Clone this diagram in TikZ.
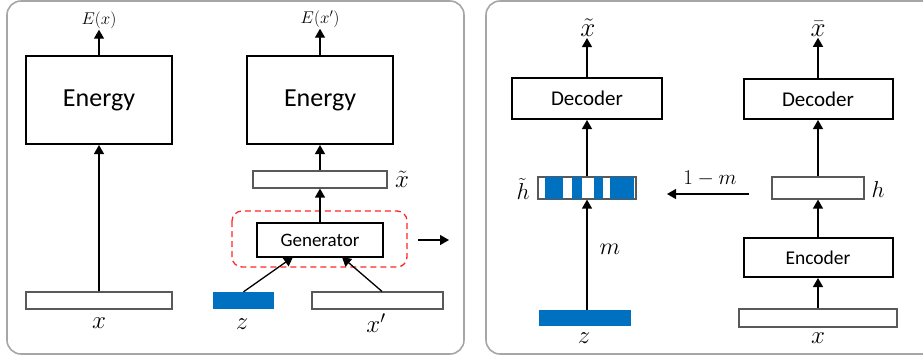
\RequirePackage{fix-cm}
\documentclass[tikz,border=0pt]{standalone}
\usepackage{fontspec}
\setmainfont{Carlito}
\usetikzlibrary{arrows.meta}
\definecolor{bblue}{HTML}{0070C0}
\definecolor{panelgray}{HTML}{A6A6A6}
\definecolor{bargray}{HTML}{595959}
\tikzset{
  panel/.style={draw=panelgray,line width=1.6pt,rounded corners=14pt},
  blockbox/.style={draw=black,line width=2pt,inner sep=0pt,fill=white},
  vecbar/.style={draw=bargray,line width=1.2pt,inner sep=0pt,fill=white},
  zbar/.style={fill=bblue,inner sep=0pt},
  arr/.style={line width=1.3pt,-{Triangle[width=10pt,length=9pt]}},
  lbl/.style={inner sep=1pt},
}
\newcommand{\fs}[1]{\fontsize{#1}{#1}\selectfont}
\begin{document}
\begin{tikzpicture}[x=1pt,y=-1pt]
\useasboundingbox (0,0) rectangle (923,360);
% panels
\draw[panel] (7,1) rectangle (464,354);
\draw[panel] (486,1) rectangle (950,354);

% ---------- left panel ----------
\node[blockbox,minimum width=146pt,minimum height=88pt] (en1) at (99,100) {\fs{26}Energy};
\node[blockbox,minimum width=146pt,minimum height=88pt] (en2) at (320,100) {\fs{26}Energy};
\node[vecbar,minimum width=146pt,minimum height=17pt] (bx1) at (99,300.5) {};
\node[lbl] (lx1) at (99,323) {\fs{25}$x$};
\node[lbl] (E1) at (99,20) {\fs{17}$E(x)$};
\node[lbl] (E2) at (320,19) {\fs{17}$E(x')$};
\draw[arr] (en1.north) -- (en1.north |- E1.south);
\draw[arr] (en2.north) -- (en2.north |- E2.south);
\draw[arr] (bx1.north) -- (en1.south);

\node[vecbar,minimum width=134pt,minimum height=17pt] (xtb) at (320,179.5) {};
\node[lbl] (lxt) at (402,179) {\fs{25}$\tilde{x}$};
\draw[red!85!white,line width=1.3pt,dash pattern=on 6pt off 4pt,rounded corners=10pt] (232,211) rectangle (407,267);
\node[blockbox,minimum width=126pt,minimum height=34pt] (gen) at (320,240) {\fs{19}Generator};
\draw[arr] (gen.north) -- (xtb.south);
\draw[arr] (xtb.north) -- (en2.south);
\coordinate (oa) at (418,240);
\coordinate (ob) at (449,240);
\draw[arr] (oa) -- (ob);

\node[zbar,minimum width=61pt,minimum height=17pt] (zb1) at (243.5,300.5) {};
\node[lbl] (lz1) at (242,324) {\fs{25}$z$};
\node[vecbar,minimum width=131pt,minimum height=17pt] (xpb) at (377.5,300.5) {};
\node[lbl] (lxp) at (376,323) {\fs{25}$x'$};
\coordinate (g1) at (293,257);
\coordinate (g2) at (342,257);
\draw[arr] (zb1.north) -- (g1);
\draw[arr] (xpb.north -| 382,0) -- (g2);

% ---------- right panel ----------
\node[blockbox,minimum width=150pt,minimum height=41pt] (dec1) at (587,98.5) {\fs{21}Decoder};
\node[blockbox,minimum width=149pt,minimum height=40pt] (dec2) at (818,99) {\fs{21}Decoder};
\node[blockbox,minimum width=149pt,minimum height=39pt] (enc) at (818,257.5) {\fs{19.5}Encoder};
\node[vecbar,minimum width=92pt,minimum height=22pt] (hb) at (818,188) {};
\node[vecbar,minimum width=158pt,minimum height=18pt] (xb2) at (818,318) {};
\node[vecbar,minimum width=98pt,minimum height=22pt] (htb) at (587,188) {};
\fill[bblue] (545,177) rectangle (563.3,199);
\fill[bblue] (572,177) rectangle (581.7,199);
\fill[bblue] (594,177) rectangle (603,199);
\fill[bblue] (609.5,177) rectangle (633.5,199);
\node[zbar,minimum width=92pt,minimum height=16pt] (zb2) at (585,318) {};

\node[lbl] (lxt2) at (588,28) {\fs{27}$\tilde{x}$};
\node[lbl] (lxb) at (818,29) {\fs{27}$\bar{x}$};
\node[lbl] (lht) at (523,189) {\fs{23}$\tilde{h}$};
\node[lbl] (lh) at (878,190) {\fs{23}$h$};
\node[lbl] (lm) at (610,249) {\fs{24}$m$};
\node[lbl] (l1m) at (710,179) {\fs{21}$1-m$};
\node[lbl] (lz2) at (584,338) {\fs{25}$z$};
\node[lbl] (lx2) at (818,338) {\fs{25}$x$};

\draw[arr] (dec1.north) -- (dec1.north |- lxt2.south);
\draw[arr] (dec2.north) -- (dec2.north |- lxb.south);
\draw[arr] (htb.north) -- (dec1.south);
\draw[arr] (zb2.north -| htb.south) -- (htb.south);
\draw[arr] (hb.north) -- (dec2.south);
\draw[arr] (enc.north) -- (hb.south);
\draw[arr] (xb2.north) -- (enc.south);
\coordinate (ma) at (749,194);
\coordinate (mb) at (667,194);
\draw[arr] (ma) -- (mb);
\end{tikzpicture}
\end{document}
